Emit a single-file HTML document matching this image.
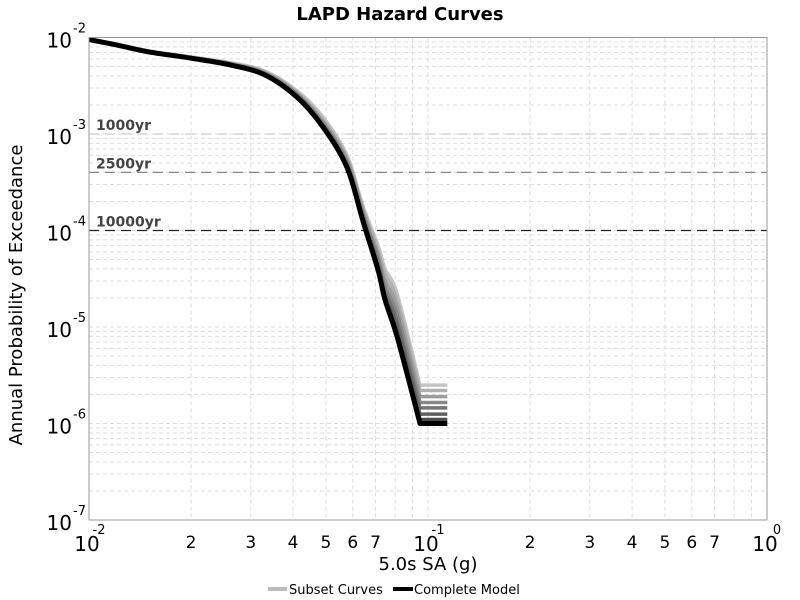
<!DOCTYPE html>
<html><head><meta charset="utf-8"><style>
body{margin:0;background:#fff}
svg{display:block;font-family:"DejaVu Sans","Liberation Sans",sans-serif}
</style></head><body>
<svg id="chart" width="800" height="600" viewBox="0 0 800 600">
<text x="400" y="20" text-anchor="middle" font-size="18" font-weight="bold">LAPD Hazard Curves</text>
<g id="grid"></g>
<g id="refs"></g>
<g id="series"></g>
<rect x="89" y="37.5" width="678" height="482.5" fill="none" stroke="#999" stroke-width="1"/>
<g id="axes"></g>
<text x="428" y="570" text-anchor="middle" font-size="18">5.0s SA (g)</text>
<text transform="translate(22,295) rotate(-90)" text-anchor="middle" font-size="18">Annual Probability of Exceedance</text>
<g>
<line x1="268" y1="589" x2="287" y2="589" stroke="#bbb" stroke-width="4"/>
<text x="289" y="594" font-size="13">Subset Curves</text>
<line x1="393" y1="589" x2="413" y2="589" stroke="#000" stroke-width="4"/>
<text x="414" y="594" font-size="13">Complete Model</text>
</g>
</svg>
<script>
const xVals=[0.01,0.012,0.015,0.02,0.0261,0.033,0.0411,0.049,0.0577,0.0643,0.0712,0.0747,0.0811,0.0947,0.114];
const completeY=[0.0095,0.0084,0.0071,0.0061,0.0052,0.0041,0.0024,0.00118,0.00045,0.000125,3.9e-5,1.9e-5,7.9e-6,1e-6,1e-6];
const subset1=[0.0096,0.0085,0.0073,0.0063,0.0055,0.0045,0.0028,0.0015,0.0006,0.00018,7e-5,4e-5,2.2e-5,2.5e-6,2.5e-6];
const subset2=[0.0096,0.0085,0.0072,0.0062,0.0054,0.0044,0.0027,0.0014,0.00057,0.00017,6.3e-5,3.5e-5,1.9e-5,2.2e-6,2.2e-6];
const subset3=[0.0095,0.0084,0.0072,0.0062,0.0054,0.0043,0.0026,0.00134,0.00054,0.00016,5.7e-5,3e-5,1.6e-5,1.9e-6,1.9e-6];
const subset4=[0.0095,0.0084,0.0072,0.0062,0.0053,0.0043,0.0026,0.00129,0.00051,0.00015,5.2e-5,2.6e-5,1.35e-5,1.65e-6,1.65e-6];
const subset5=[0.0095,0.0084,0.0071,0.0061,0.0053,0.0042,0.0025,0.00125,0.00049,0.00014,4.7e-5,2.3e-5,1.15e-5,1.45e-6,1.45e-6];
const subset6=[0.0095,0.0084,0.0071,0.0061,0.0052,0.0042,0.0025,0.00122,0.00047,0.000133,4.3e-5,2.1e-5,9.8e-6,1.25e-6,1.25e-6];
const subset7=[0.0095,0.0084,0.0071,0.0061,0.0052,0.0041,0.0024,0.0012,0.00046,0.000128,4.1e-5,2e-5,8.7e-6,1.1e-6,1.1e-6];
const subsetColors=["#c4c4c4","#b0b0b0","#9c9c9c","#888","#747474","#606060","#4c4c4c"];
const refValues=[1e-3,4e-4,1e-4];
const refLabels=["1000yr","2500yr","10000yr"];
const refColors=["#ccc","#888","#222"];
const xDecades=[-2,-1,0];
const yDecades=[-2,-3,-4,-5,-6,-7];

const NS="http://www.w3.org/2000/svg";
const X0=89,X1=767,Y0=37.5,Y1=520;
function sx(v){return X0+(Math.log10(v)+2)/2*(X1-X0);}
function sy(v){return Y0+(-2-Math.log10(v))/5*(Y1-Y0);}
function mk(t,a,p){const e=document.createElementNS(NS,t);for(const k in a)e.setAttribute(k,a[k]);p.appendChild(e);return e;}
const grid=document.getElementById('grid');
for(let d=-2;d<0;d++)for(let m=1;m<10;m++){const v=m*Math.pow(10,d);const x=sx(v);
 const l=mk('line',{x1:x,x2:x,y1:Y0,y2:Y1,stroke:'#ddd','stroke-dasharray':'4,3','stroke-width':1},grid);
 
 }
for(let d=-7;d<-2;d++)for(let m=1;m<10;m++){const v=m*Math.pow(10,d);const y=sy(v);
 const l=mk('line',{x1:X0,x2:X1,y1:y,y2:y,stroke:'#ddd','stroke-dasharray':'4,3','stroke-width':1},grid);
 
 }
const refs=document.getElementById('refs');
refValues.forEach((v,i)=>{const y=sy(v);
 const l=mk('line',{x1:X0,x2:X1,y1:y,y2:y,stroke:refColors[i],'stroke-dasharray':'10,6','stroke-width':1.3},refs);
 
 
 const t=mk('text',{x:96,y:y-4,'font-size':14,'font-weight':'bold',fill:'#444'},refs);t.textContent=refLabels[i];
 
 });
const series=document.getElementById('series');
function pathOf(ys){
 const p=ys.map((v,i)=>[sx(xVals[i]),sy(v)]);
 const n=p.length;let d='M'+p[0][0].toFixed(1)+','+p[0][1].toFixed(1);
 for(let i=0;i<n-1;i++){
  if(i===n-2){d+='L'+p[i+1][0].toFixed(1)+','+p[i+1][1].toFixed(1);continue;}
  const p0=p[Math.max(i-1,0)],p1=p[i],p2=p[i+1],p3=p[Math.min(i+2,n-2)];
  const c1=[p1[0]+(p2[0]-p0[0])/6,p1[1]+(p2[1]-p0[1])/6];
  const c2=[p2[0]-(p3[0]-p1[0])/6,p2[1]-(p3[1]-p1[1])/6];
  d+='C'+c1.map(q=>q.toFixed(1)).join(',')+' '+c2.map(q=>q.toFixed(1)).join(',')+' '+p2.map(q=>q.toFixed(1)).join(',');
 }
 return d;}
[subset1,subset2,subset3,subset4,subset5,subset6,subset7].forEach((ys,i)=>{
 const p=mk('path',{d:pathOf(ys),fill:'none',stroke:subsetColors[i],'stroke-width':3.5,'stroke-linejoin':'round'},series);
 
 });
const cp=mk('path',{d:pathOf(completeY),fill:'none',stroke:'#000','stroke-width':5,'stroke-linejoin':'round'},series);


const axes=document.getElementById('axes');
xDecades.forEach(d=>{const x=sx(Math.pow(10,d));
 const t=mk('text',{x:x-2,y:551,'text-anchor':'middle','font-size':20},axes);t.textContent='10';
 
 
 const s=mk('text',{x:x+10,y:534,'text-anchor':'middle','font-size':13},axes);s.textContent=String(d);
 
 });
for(let d=-2;d<0;d++)for(let m=2;m<8;m++){const x=sx(m*Math.pow(10,d));
 const t=mk('text',{x:x,y:548,'text-anchor':'middle','font-size':17},axes);t.textContent=String(m);
 
 }
yDecades.forEach(d=>{const y=sy(Math.pow(10,d));
 const t=mk('text',{x:72,y:y+10,'text-anchor':'end','font-size':20},axes);t.textContent='10';
 
 
 const s=mk('text',{x:73,y:y-5,'font-size':13},axes);s.textContent=String(d);
 
 });
</script>
</body></html>
